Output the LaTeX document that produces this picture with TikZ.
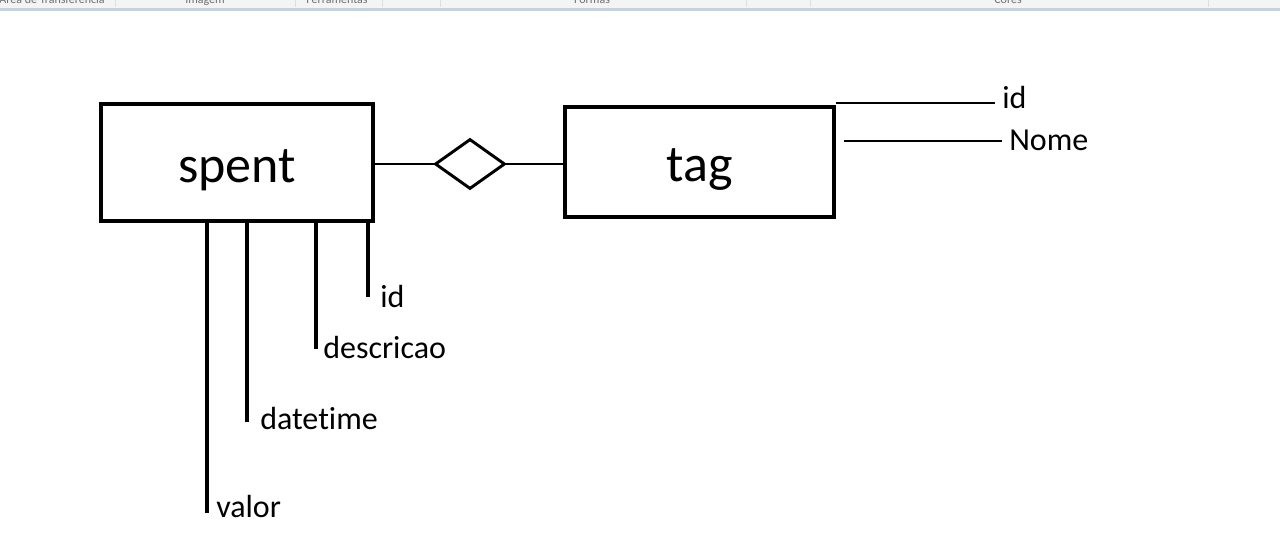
\documentclass[tikz,border=0pt]{standalone}
\usepackage{fontspec}
\setmainfont[Ligatures=NoCommon]{Carlito}
\usepackage{tikz}
\usetikzlibrary{shapes.geometric}
\definecolor{ribbonbg}{HTML}{F3F4F5}
\definecolor{ribbonbar}{HTML}{C6D1DC}
\definecolor{ribbonsep}{HTML}{DCDFE2}
\definecolor{ribbontxt}{HTML}{707070}
\tikzset{
  entity/.style={draw, line width=3pt, inner sep=0pt, text height=30pt, text depth=0pt,
    font=\fontsize{39}{40}\selectfont},
  relation/.style={draw, diamond, line width=2.2pt, inner sep=0pt, minimum width=52.5pt, minimum height=37.5pt},
  link/.style={line width=1.9pt},
  attrline/.style={line width=3pt},
  tagline/.style={line width=2.2pt},
  attr/.style={anchor=base west, inner sep=0pt, font=\fontsize{24}{26}\selectfont},
  ribbontab/.style={anchor=base, inner sep=0pt, text=ribbontxt, font=\fontsize{9}{10}\selectfont}
}

\begin{document}
\begin{tikzpicture}[x=0.75pt, y=-0.75pt]
  \useasboundingbox[fill=white] (0,0) rectangle (1280,559);

  %% paint ribbon at the top
  \fill[ribbonbg] (0,0) rectangle (1280,8);
  \begin{scope}
    \clip (0,0) rectangle (1280,7);
    \node[ribbontab] (tabclip) at (52,4) {Área de Transferência};
    \node[ribbontab] (tabimg) at (205,4) {Imagem};
    \node[ribbontab] (tabtools) at (337,4) {Ferramentas};
    \node[ribbontab] (tabshapes) at (592,4) {Formas};
    \node[ribbontab] (tabcolors) at (1008,4) {Cores};
  \end{scope}
  \foreach \sx in {115,295,382,440,746,810,1208}
    \draw[ribbonsep, line width=0.75pt] (\sx,0) -- (\sx,7);
  \fill[ribbonbar] (0,8) rectangle (1280,11.5);

  %% entities and relation
  \node[entity, minimum width=204pt, minimum height=87.75pt] (spent) at (237,162.5) {spent};
  \node[entity, minimum width=201.75pt, minimum height=82.5pt] (tag) at (699.5,162) {tag};
  \node[relation] (rel) at (470,164) {};

  \draw[link] (rel.west -| spent.east) -- (rel.west); % spent - rel
  \draw[link] (rel.east) -- (rel.east -| tag.west);   % rel - tag

  %% attributes of spent
  \coordinate (valor-end) at (207,513);
  \coordinate (datetime-end) at (247,422);
  \coordinate (descricao-end) at (316,349);
  \coordinate (spentid-end) at (368,297);
  \node[attr] (valor) at (216,517) {valor};
  \node[attr] (datetime) at (260,429) {datetime};
  \node[attr] (descricao) at (323,358) {descricao};
  \node[attr] (spentid) at (380,307) {id};
  \foreach \a in {valor,datetime,descricao,spentid}
    \draw[attrline] (\a-end |- spent.south) -- (\a-end);

  %% attributes of tag
  \coordinate (tagid-end) at (995,103);
  \coordinate (nome-end) at (1002,141);
  \node[attr] (tagid) at (1002,109) {id};
  \node[attr] (nome) at (1009,151) {Nome};
  \draw[tagline] (tagid-end -| tag.east) -- (tagid-end);
  \draw[tagline] ([xshift=6pt]nome-end -| tag.east) -- (nome-end);

\end{tikzpicture}
\end{document}
